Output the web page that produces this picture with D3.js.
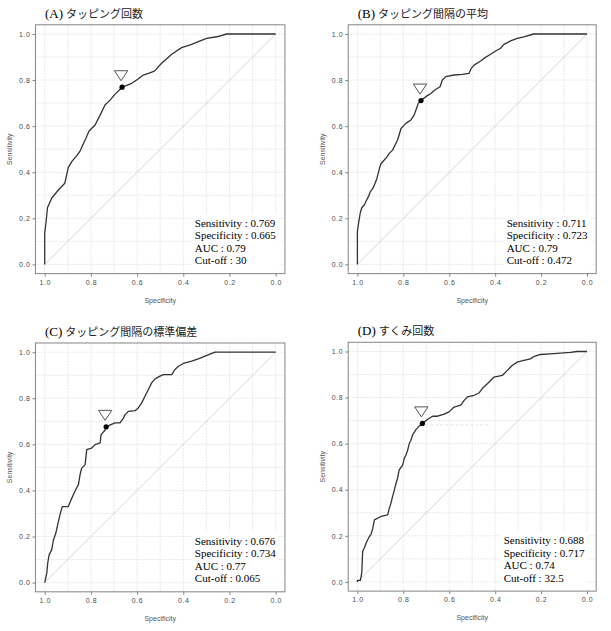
<!DOCTYPE html>
<html><head><meta charset="utf-8">
<script src="https://cdn.jsdelivr.net/npm/d3@7"></script>
<style>body{margin:0;background:#fff}svg{display:block}</style>
</head><body>
<script>
// ---- data ----
const panelLabels = ["(A)", "(B)", "(C)", "(D)"];
const panelTitles = ["タッピング回数", "タッピング間隔の平均", "タッピング間隔の標準偏差", "すくみ回数"];
const axisTicks = [0, 0.2, 0.4, 0.6, 0.8, 1.0];
const minorTicks = [0.1, 0.3, 0.5, 0.7, 0.9];

const specA = [1,1,0.994,0.988,0.970,0.941,0.913,0.898,0.883,0.861,0.847,0.825,0.808,0.782,0.760,0.739,0.717,0.696,0.665,0.623,0.602,0.573,0.551,0.525,0.494,0.450,0.407,0.364,0.335,0.299,0.255,0.212,0];
const sensA = [0,0.135,0.185,0.246,0.287,0.323,0.352,0.420,0.446,0.472,0.492,0.540,0.579,0.605,0.648,0.692,0.713,0.738,0.769,0.786,0.800,0.822,0.829,0.839,0.873,0.912,0.941,0.955,0.967,0.981,0.988,1,1];

const specB = [1,1,0.994,0.988,0.981,0.970,0.962,0.952,0.944,0.933,0.923,0.915,0.904,0.897,0.883,0.871,0.861,0.847,0.836,0.825,0.810,0.789,0.767,0.753,0.745,0.735,0.723,0.702,0.680,0.663,0.640,0.630,0.615,0.579,0.543,0.514,0.504,0.492,0.463,0.449,0.420,0.398,0.376,0.362,0.333,0.304,0.275,0.232,0];
const sensB = [0,0.142,0.185,0.221,0.246,0.258,0.275,0.294,0.315,0.330,0.352,0.373,0.417,0.438,0.453,0.467,0.482,0.496,0.518,0.540,0.590,0.612,0.627,0.648,0.670,0.699,0.711,0.728,0.742,0.757,0.771,0.800,0.815,0.822,0.825,0.829,0.851,0.865,0.883,0.894,0.912,0.926,0.938,0.955,0.970,0.981,0.988,1,1];

const specC = [1,0.999,0.991,0.987,0.981,0.970,0.962,0.952,0.944,0.934,0.924,0.898,0.886,0.876,0.866,0.854,0.847,0.840,0.825,0.818,0.797,0.782,0.760,0.756,0.739,0.734,0.713,0.696,0.674,0.659,0.652,0.638,0.609,0.595,0.580,0.566,0.551,0.537,0.522,0.501,0.486,0.450,0.436,0.421,0.400,0.364,0.335,0.306,0.263,0];
const sensC = [0,0.004,0.041,0.084,0.120,0.142,0.186,0.214,0.251,0.294,0.330,0.330,0.359,0.381,0.403,0.425,0.468,0.497,0.512,0.577,0.584,0.599,0.606,0.642,0.661,0.676,0.686,0.693,0.693,0.714,0.729,0.743,0.746,0.758,0.780,0.809,0.838,0.867,0.884,0.896,0.903,0.903,0.925,0.939,0.951,0.961,0.971,0.983,1,1];

const specD = [1,1,0.987,0.981,0.977,0.970,0.962,0.955,0.948,0.941,0.933,0.926,0.897,0.868,0.861,0.854,0.847,0.839,0.832,0.825,0.818,0.803,0.796,0.789,0.781,0.774,0.767,0.760,0.745,0.731,0.717,0.695,0.673,0.651,0.622,0.601,0.579,0.550,0.535,0.521,0.492,0.470,0.456,0.434,0.405,0.369,0.347,0.326,0.304,0.275,0.246,0.232,0.203,0.159,0.116,0.072,0.043,0];
const sensD = [0,0.007,0.007,0.039,0.133,0.147,0.169,0.183,0.197,0.205,0.233,0.269,0.284,0.291,0.320,0.341,0.370,0.399,0.428,0.450,0.486,0.507,0.536,0.550,0.572,0.601,0.615,0.637,0.661,0.676,0.688,0.705,0.719,0.719,0.728,0.738,0.759,0.767,0.788,0.803,0.810,0.820,0.839,0.860,0.889,0.896,0.918,0.939,0.954,0.961,0.968,0.978,0.987,0.990,0.993,0.996,1,1];

const cutSens = [0.769, 0.711, 0.676, 0.688];
const cutSpec = [0.665, 0.723, 0.734, 0.717];
const aucValues = ["0.79", "0.79", "0.77", "0.74"];
const cutoffValues = ["30", "0.472", "0.065", "32.5"];

const specs = [specA, specB, specC, specD];
const senss = [sensA, sensB, sensC, sensD];

// ---- layout ----
const W = 611, H = 631;
const svg = d3.select("body").append("svg").attr("width", W).attr("height", H);
const offsets = [[0, 0], [312.7, 0], [0, 318.2], [312.7, 317.5]];

const tickColor = "#4d4d4d";

offsets.forEach((off, i) => {
  const [ox, oy] = off;
  const x = d3.scaleLinear().domain([1, 0]).range([44.7 + ox, 275.7 + ox - (i % 2 ? 1.4 : 0)]);
  const y = d3.scaleLinear().domain([0, 1]).range([264.4 + oy, 34 + oy]);
  const xr = x.range(), yr = y.range();
  const ex = (xr[1] - xr[0]) * 0.04, ey = (yr[0] - yr[1]) * 0.04;
  const left = xr[0] - ex, right = xr[1] + ex, top = yr[1] - ey, bottom = yr[0] + ey;
  const g = svg.append("g");

  // grid
  const grid = g.append("g").attr("stroke", "#e3e3e3").attr("stroke-width", 0.8).attr("stroke-dasharray", "2,1");
  [...axisTicks, ...minorTicks].forEach(t => {
    grid.append("line").attr("x1", x(t)).attr("x2", x(t)).attr("y1", top).attr("y2", bottom);
    grid.append("line").attr("y1", y(t)).attr("y2", y(t)).attr("x1", left).attr("x2", right);
  });

  // diagonal
  g.append("line").attr("x1", x(1)).attr("y1", y(0)).attr("x2", x(0)).attr("y2", y(1))
    .attr("stroke", "#d6d6d6").attr("stroke-width", 1);

  // annotation text (background box first)
  const ann = g.append("g");
  const tx = x(i === 3 ? 0.363 : 0.35);
  const lines = ["Sensitivity : " + cutSens[i].toFixed(3), "Specificity : " + cutSpec[i].toFixed(3),
                 "AUC : " + aucValues[i], "Cut-off : " + cutoffValues[i]];
  const bg = ann.append("rect").attr("fill", "#fff");
  const txt = ann.append("g");
  lines.forEach((s, k) => {
    txt.append("text").attr("x", tx).attr("y", y(0) - 37.8 + k * 12.5)
      .attr("font-family", "Liberation Serif, Times New Roman, serif").attr("font-size", 11)
      .attr("font-weight", 400).attr("fill", "#000").text(s);
  });
  const bb = txt.node().getBBox();
  bg.attr("x", bb.x - 3).attr("y", bb.y - 2).attr("width", Math.min(right - 0.5, bb.x + bb.width + 3) - (bb.x - 3))
    .attr("height", bottom - (bb.y - 2) - 0.5);

  // faint threshold marks (panel D)
  if (i === 3) {
    g.append("line").attr("x1", x(cutSpec[i]) + 3).attr("x2", x(0.42)).attr("y1", y(cutSens[i]) + 1.5).attr("y2", y(cutSens[i]) + 1.5)
      .attr("stroke", "#e4e4e4").attr("stroke-dasharray", "3,2");
    g.append("line").attr("x1", x(cutSpec[i]) + 1).attr("x2", x(cutSpec[i]) + 1).attr("y1", y(cutSens[i]) + 2).attr("y2", y(0.655))
      .attr("stroke", "#e4e4e4").attr("stroke-dasharray", "2,2");
  }

  // ROC curve
  const pts = specs[i].map((s, k) => [s, senss[i][k]]);
  g.append("path").datum(pts)
    .attr("d", d3.line().x(d => x(d[0])).y(d => y(d[1])))
    .attr("fill", "none").attr("stroke", "#333").attr("stroke-width", 1.3).attr("stroke-linejoin", "round");

  // cut-off point + marker triangle
  const px = x(cutSpec[i]), py = y(cutSens[i]);
  g.append("circle").attr("cx", px).attr("cy", py).attr("r", 2.6).attr("fill", "#000");
  const tcx = px - 1, tip = py - 6.5, tt = py - 16.5;
  g.append("path").attr("d", `M${tcx - 6.7},${tt}L${tcx + 6.7},${tt}L${tcx},${tip}Z`)
    .attr("fill", "#fff").attr("stroke", "#555").attr("stroke-width", 1);

  // frame
  g.append("rect").attr("x", left).attr("y", top).attr("width", right - left).attr("height", bottom - top)
    .attr("fill", "none").attr("stroke", "#858585").attr("stroke-width", 1);

  // axes
  const xa = g.append("g").attr("transform", `translate(0,${bottom})`)
    .call(d3.axisBottom(x).tickValues(axisTicks).tickFormat(d3.format(".1f")).tickSize(3).tickPadding(3));
  const ya = g.append("g").attr("transform", `translate(${left},0)`)
    .call(d3.axisLeft(y).tickValues(axisTicks).tickFormat(d3.format(".1f")).tickSize(3).tickPadding(2));
  [xa, ya].forEach(a => {
    a.select(".domain").remove();
    a.selectAll(".tick line").attr("stroke", "#858585");
    a.selectAll(".tick text").attr("fill", tickColor).attr("font-family", "Liberation Sans, Arial, sans-serif")
      .attr("font-size", 7).attr("letter-spacing", 0.6);
  });

  // axis titles
  g.append("text").attr("x", (left + right) / 2).attr("y", bottom + 29).attr("text-anchor", "middle")
    .attr("font-family", "Liberation Sans, Arial, sans-serif").attr("font-size", 7).attr("fill", "#555").text("Specificity");
  g.append("text").attr("transform", `translate(${left - 23},${(top + bottom) / 2}) rotate(-90)`)
    .attr("text-anchor", "middle").attr("font-family", "Liberation Sans, Arial, sans-serif")
    .attr("font-size", 7).attr("fill", "#555").text("Sensitivity");

  // panel title
  const t = g.append("text").attr("x", left + 9.5).attr("y", top - 7).attr("font-weight", 400);
  t.append("tspan").attr("font-family", "Liberation Serif, Times New Roman, serif").attr("font-size", 13)
    .attr("font-weight", 400).attr("fill", "#000").text(panelLabels[i]);
  t.append("tspan").attr("dx", 3).attr("font-family", "Noto Sans CJK JP, sans-serif").attr("font-size", 11)
    .attr("font-weight", 400).attr("fill", "#222").text(panelTitles[i]);
});
</script>
</body></html>
